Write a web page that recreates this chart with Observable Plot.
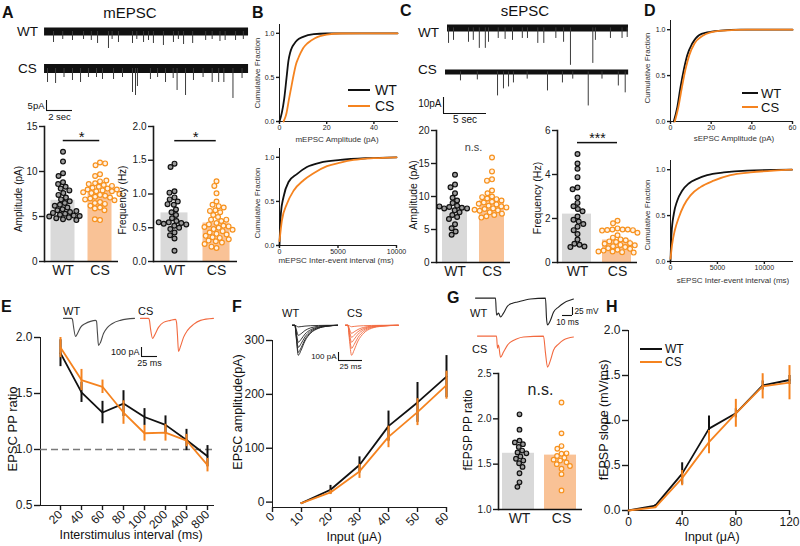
<!DOCTYPE html>
<html><head><meta charset="utf-8">
<script src="https://cdn.jsdelivr.net/npm/d3@7"></script>
<script src="https://cdn.jsdelivr.net/npm/@observablehq/plot@0.6"></script>
<style>
body{margin:0;background:#fff;}
#root{position:relative;width:800px;height:546px;overflow:hidden;background:#fff;font-family:"Liberation Sans",Arial,Helvetica,sans-serif;color:#111}
.lbl{position:absolute;white-space:nowrap;line-height:1;}
g[aria-label="frame"], g[aria-label="frame"] * {stroke-width:1.6px}
g[aria-label$="axis tick"], g[aria-label$="axis tick"] * {stroke-width:1.4px}
</style></head><body><div id="root"></div>
<script>
// ================= DATA =================
const groups = ["WT", "CS"];
// A: mEPSC amplitude (pA) and frequency (Hz), individual cells + means
const mAmpWT = [12.2, 11.1, 9.8, 9.5, 8.8, 8.6, 8.3, 8.1, 7.9, 7.6, 7.4, 7.1, 6.9, 6.7, 6.5, 6.3, 6.2, 6.0, 5.8, 5.7, 5.5, 5.4, 5.3, 5.2, 5.1, 5.0, 4.9, 4.8, 4.7, 4.6, 5.05, 5.6];
const mAmpCS = [11.0, 10.7, 10.9, 9.7, 9.5, 8.9, 8.7, 8.5, 8.3, 8.2, 8.1, 8.0, 7.9, 7.8, 7.8, 7.7, 7.6, 7.4, 7.3, 7.2, 7.1, 7.0, 6.9, 6.6, 6.5, 6.4, 6.2, 6.0, 5.9, 5.7, 4.6, 4.7, 8.4, 8.0, 7.5, 6.8, 8.6, 9.0];
const mAmpMeans = [6.8, 7.8];
const mFreqWT = [1.45, 1.40, 1.04, 1.02, 0.95, 0.92, 0.89, 0.84, 0.77, 0.73, 0.69, 0.64, 0.60, 0.58, 0.57, 0.56, 0.55, 0.53, 0.50, 0.48, 0.43, 0.39, 0.34, 0.16, 0.85, 0.58];
const mFreqCS = [1.19, 1.12, 1.01, 0.89, 0.84, 0.82, 0.80, 0.76, 0.73, 0.69, 0.66, 0.62, 0.60, 0.57, 0.55, 0.53, 0.52, 0.51, 0.50, 0.48, 0.47, 0.45, 0.43, 0.41, 0.40, 0.38, 0.36, 0.35, 0.33, 0.31, 0.30, 0.28, 0.26, 0.20, 0.22, 0.62, 0.75];
const mFreqMeans = [0.72, 0.57];
// C: sEPSC amplitude and frequency
const sAmpWT = [13.3, 11.8, 11.4, 10.5, 9.8, 9.4, 9.0, 8.6, 8.4, 8.3, 8.2, 8.2, 7.9, 7.6, 7.2, 6.9, 6.6, 5.8, 5.2, 4.7, 4.2, 8.5];
const sAmpCS = [15.9, 13.8, 12.6, 12.4, 10.9, 10.5, 10.0, 9.7, 9.6, 9.4, 9.2, 9.1, 8.9, 8.8, 8.6, 8.5, 8.35, 8.2, 8.1, 7.9, 7.85, 7.6, 7.4, 7.2, 7.0, 6.8, 9.9, 8.0];
const sAmpMeans = [8.2, 9.4];
const sFreqWT = [4.93, 4.5, 4.26, 3.88, 3.41, 3.33, 2.95, 2.71, 2.56, 2.43, 2.33, 2.09, 1.94, 1.86, 1.75, 1.63, 1.47, 1.29, 1.04, 0.85, 0.81, 0.73, 0.70];
const sFreqCS = [1.9, 1.78, 1.55, 1.5, 1.5, 1.5, 1.48, 1.47, 1.45, 1.35, 1.24, 1.13, 1.05, 1.01, 0.96, 0.93, 0.88, 0.85, 0.80, 0.78, 0.74, 0.70, 0.65, 0.62, 0.58, 0.54, 0.50, 0.47, 0.45, 0.50];
const sFreqMeans = [2.2, 1.02];
// G: fEPSP paired-pulse ratio
const ppWT = [2.05, 1.88, 1.76, 1.74, 1.72, 1.69, 1.65, 1.63, 1.62, 1.585, 1.56, 1.54, 1.51, 1.47, 1.40, 1.30, 1.25];
const ppCS = [2.18, 1.84, 1.70, 1.67, 1.615, 1.59, 1.57, 1.54, 1.52, 1.50, 1.45, 1.39, 1.21, 1.62, 1.55, 1.48];
const ppMeans = [1.62, 1.60];
// B / D cumulative distributions [x, fraction]
const cumMAmpWT = [[0,0],[1,0.1],[2,0.26],[3,0.5],[3.8,0.69],[4.5,0.78],[5.3,0.84],[6.2,0.88],[7.4,0.92],[10,0.96],[14.5,0.99],[20,0.998],[30,1],[50,1]];
const cumMAmpCS = [[1.7,0],[2.5,0.05],[3,0.1],[4,0.25],[5,0.39],[6,0.53],[7,0.65],[8,0.72],[9,0.78],[10,0.83],[12,0.89],[15,0.945],[20,0.985],[26,0.998],[35,1],[50,1]];
const cumMIeiWT = [[0,0],[50,0.2],[114,0.36],[343,0.55],[771,0.72],[1486,0.81],[2343,0.89],[3486,0.94],[5200,0.97],[7486,0.99],[10000,1]];
const cumMIeiCS = [[0,0.05],[200,0.28],[629,0.47],[1200,0.62],[2057,0.74],[2914,0.82],[4057,0.9],[5200,0.94],[6343,0.97],[8057,0.99],[10000,1]];
const cumSAmpWT = [[1.6,0],[3.3,0.15],[4.9,0.37],[6.6,0.57],[8.2,0.72],[10.7,0.85],[14,0.94],[18,0.97],[24.7,0.99],[34.5,1],[60,1]];
const cumSAmpCS = [[2.1,0],[3.8,0.15],[5.6,0.37],[7.4,0.57],[9.2,0.72],[11.8,0.85],[15.6,0.93],[19.7,0.97],[26.3,0.99],[37.8,1],[60,1]];
const cumSIeiWT = [[0,0],[106,0.3],[355,0.52],[709,0.66],[1241,0.77],[1950,0.85],[2837,0.9],[3900,0.94],[5674,0.97],[8156,0.99],[12940,1]];
const cumSIeiCS = [[0,0.03],[177,0.19],[461,0.34],[887,0.48],[1418,0.61],[2128,0.72],[3191,0.81],[4610,0.88],[6383,0.94],[8511,0.97],[10993,0.99],[12940,1]];
// E: EPSC paired-pulse ratio vs interstimulus interval
const isiLabels = ["20", "40", "60", "80", "100", "200", "400", "800"];
const ppEWT = [1.86, 1.51, 1.33, 1.41, 1.29, 1.22, 1.085, 0.94];
const ppEWTsem = [0.12, 0.09, 0.10, 0.115, 0.075, 0.08, 0.095, 0.095];
const ppECS = [1.91, 1.62, 1.56, 1.33, 1.145, 1.15, 1.08, 0.86];
const ppECSsem = [0.09, 0.095, 0.06, 0.105, 0.07, 0.075, 0.055, 0.06];
// F: EPSC amplitude vs input
const inputF = [10, 20, 30, 40, 50, 60];
const ampFWT = [-2, 23, 69, 141, 185, 233];
const ampFWTsem = [1, 8, 15, 28, 37, 39];
const ampFCS = [-2, 18, 57, 121, 167, 217];
const ampFCSsem = [1, 4, 13, 20, 25, 26];
// H: fEPSP slope vs input
const inputH = [0, 20, 40, 60, 80, 100, 120];
const slopeWT = [0, 0.055, 0.41, 0.91, 1.08, 1.39, 1.45];
const slopeWTsem = [0, 0.01, 0.12, 0.14, 0.05, 0.05, 0.05];
const slopeCS = [0, 0.035, 0.36, 0.76, 1.08, 1.38, 1.42];
const slopeCSsem = [0, 0.01, 0.085, 0.13, 0.155, 0.14, 0.19];
// Example traces: noisy recordings -> events [time s, depth pA]
const mTraceWTevents = [[0.69,5.5],[1.4,4],[2.15,4.5],[3.0,4],[3.6,4.5],[4.08,6],[4.92,8.5],[5.2,4],[5.69,5.5],[6.77,6],[7.1,4],[7.62,5.5],[8.0,4.5],[8.38,6],[9.15,7],[9.92,5.5],[10.3,4],[10.7,6.5],[11.4,6],[12.4,4.5],[12.9,4],[13.5,5],[13.9,4.5],[14.7,4.5],[15.3,4]];
const mTraceCSevents = [[0.23,7],[0.85,7.5],[1.5,4.5],[2.15,6],[2.77,7],[3.38,4.5],[4.0,4.5],[4.46,5.5],[5.31,5.5],[6.0,4.5],[6.77,12],[7.0,13.5],[7.15,9],[8.15,5.5],[8.7,4.5],[9.31,7],[9.9,5],[10.2,11],[10.85,13.5],[11.46,6],[12.2,4.5],[12.9,7],[13.4,7],[13.8,7],[14.5,15],[15.2,5]];
const sTraceWTevents = [[0.12,9.7],[0.7,7.8],[2.44,9],[3.0,7.8],[3.7,12.8],[4.4,12.8],[4.77,9],[5.9,6.6],[6.7,7.2],[7.56,7.8],[8.7,6.6],[9.3,6.6],[10.5,9.7],[11.2,9.7],[12.6,6.6],[13.5,9],[14.3,23.4],[16.9,22.2],[17.2,7.8],[18.95,6.6],[20.3,6.6],[20.9,6]];
const sTraceCSevents = [[1.74,5.6],[3.7,5],[6.05,15],[6.74,10.6],[7.33,9.4],[7.9,6.9],[9.5,4.5],[11.86,11.9],[13.6,6.9],[14.8,4.5],[16.6,21.3],[18.2,4.5],[20.1,8.8],[20.9,13.1]];
// Evoked waveforms [time ms, current pA or mV]
const eTraceWT = [[0,0],[12.5,0],[14,-11],[15.6,-89],[18.8,-200],[21.9,-167],[26.6,-100],[34.4,-56],[42.2,-33],[50,-22],[51.6,-33],[53.1,-167],[54.7,-300],[57.8,-267],[62.5,-167],[68.8,-100],[76.6,-56],[89,-22],[111,0]];
const eTraceCS = [[0,0],[12.5,0],[14,-22],[15.6,-111],[18.8,-222],[21.9,-189],[28.1,-100],[35.9,-44],[46.9,-22],[54.7,-11],[56.3,-44],[57.8,-189],[59.4,-367],[62.5,-311],[67.2,-211],[73.4,-133],[82.8,-67],[93.8,-22],[114,0]];
const fTraceTimeWT = [0, 2.5, 4, 6, 9, 13, 19, 27, 36, 47];
const fTracesWT = [
  [0, 0, -8, -20, -16, -10, -5, -2, 0, 0],
  [0, 0, -55, -125, -105, -65, -32, -12, -4, 0],
  [0, 0, -95, -212, -175, -110, -55, -22, -7, 0],
  [0, 0, -125, -275, -228, -145, -72, -28, -9, 0],
  [0, 0, -150, -338, -280, -178, -88, -35, -11, 0],
  [0, 0, -170, -375, -310, -196, -98, -38, -12, 0]
];
const fTraceTimeCS = [0, 2.5, 4, 6.3, 9, 13, 19, 27, 38, 55];
const fTracesCS = [
  [0, 0, -6, -18, -14, -9, -5, -2, 0, 0],
  [0, 0, -45, -100, -82, -52, -26, -10, -3, 0],
  [0, 0, -68, -150, -125, -80, -40, -16, -5, 0],
  [0, 0, -95, -212, -175, -112, -56, -22, -7, 0],
  [0, 0, -130, -288, -240, -152, -76, -30, -9, 0],
  [0, 0, -170, -375, -310, -196, -98, -38, -12, 0]
];
const gTraceWT = [[0,0],[20,0],[21,-53],[23,-47],[25,-59],[28,-47],[32,-25],[37,-16],[42,-12],[55,-3],[70,0],[71,-62],[72,-84],[75,-69],[78,-44],[83,-28],[88,-16],[98,-3]];
const gTraceCS = [[0,0],[19,0],[20,-38],[21,-28],[23,-66],[26,-50],[30,-28],[33,-19],[39,-9],[46,-3],[66,0],[68,-53],[70,-97],[73,-75],[76,-44],[81,-25],[86,-12],[96,-3]];

// ================= STYLE =================
const FONT = '"Liberation Sans", Arial, Helvetica, sans-serif';
const K = "#111111", OR = "#f5831f", OR_TRACE = "#f26a40";
const BAR_WT = "#d9d9d9", BAR_CS = "#f9c296", DOT_CS = "#f7921e";
const root = document.getElementById("root");
const baseStyle = (size) => ({fontFamily: FONT, fontSize: size + "px", color: "#1a1a1a", background: "transparent", overflow: "visible"});

function place(svg, left, top) {
  svg.style.position = "absolute";
  svg.style.left = left + "px";
  svg.style.top = top + "px";
  root.appendChild(svg);
}
function label(text, x, y, o = {}) {
  const d = document.createElement("div");
  d.className = "lbl";
  d.textContent = text;
  d.style.fontSize = (o.size || 13) + "px";
  if (o.bold) d.style.fontWeight = "bold";
  if (o.color) d.style.color = o.color;
  d.style.left = x + "px"; d.style.top = y + "px";
  const a = o.anchor || "middle";
  const tx = a === "middle" ? "-50%" : a === "end" ? "-100%" : "0%";
  d.style.transform = `translate(${tx}, -50%)` + (o.rotate ? " rotate(-90deg)" : "");
  root.appendChild(d);
}
function legendRow(x1, x2, y, color, text, tx, size) {
  const l = document.createElement("div");
  l.style.cssText = `position:absolute;left:${x1}px;top:${y - 1}px;width:${x2 - x1}px;height:2px;background:${color}`;
  root.appendChild(l);
  label(text, tx, y, {size, anchor: "start"});
}

// ---------- bar + dots panel ----------
function barPanel(o) {
  const fw = (o.width - o.ml - o.mr) / 2;
  const wt = o.wt.map(v => ({g: "WT", v}));
  const cs = o.cs.map(v => ({g: "CS", v}));
  const means = groups.map((g, i) => ({g, v: o.means[i]}));
  const y0 = o.yDomain[0];
  const marks = [
    Plot.barY(means.filter(d => d.g === "WT"), {fx: "g", y1: y0, y2: "v", fill: BAR_WT, insetLeft: o.inset[0], insetRight: o.inset[1]}),
    Plot.barY(means.filter(d => d.g === "CS"), {fx: "g", y1: y0, y2: "v", fill: BAR_CS, insetLeft: o.inset[0], insetRight: o.inset[1]}),
    Plot.ruleY([y0], {stroke: K, strokeWidth: 1.6}),
    Plot.dot(wt, Plot.dodgeX({anchor: "middle", padding: 0.4}, {fx: "g", y: "v", r: o.r, stroke: K, strokeWidth: 1.2, fill: "#9c9c9c"})),
    Plot.dot(cs, Plot.dodgeX({anchor: "middle", padding: 0.4}, {fx: "g", y: "v", r: o.r, stroke: DOT_CS, strokeWidth: 1.2, fill: "#fff1e4"})),
    Plot.axisFx({anchor: "bottom", tickSize: 0, tickPadding: 4, fontSize: 14, label: null})
  ];
  if (o.sig) {
    if (o.sig.line) {
      marks.push(Plot.ruleY([{g: "WT", v: o.sig.y}], {fx: "g", y: "v", insetLeft: fw / 2, stroke: K, strokeWidth: 1.5}));
      marks.push(Plot.ruleY([{g: "CS", v: o.sig.y}], {fx: "g", y: "v", insetRight: fw / 2, stroke: K, strokeWidth: 1.5}));
    }
    marks.push(Plot.text([{g: "WT", v: o.sig.y, t: o.sig.text}], {fx: "g", y: "v", text: "t", dx: fw / 2, dy: o.sig.dy, fontSize: o.sig.size, fill: o.sig.color || K}));
  }
  const svg = Plot.plot({
    width: o.width, height: o.height,
    marginLeft: o.ml, marginRight: o.mr, marginTop: o.mt, marginBottom: o.mb,
    fx: {domain: groups, padding: 0, label: null},
    y: {domain: o.yDomain, ticks: o.yTicks, tickFormat: o.tickFormat, tickSize: 5, tickPadding: 2, line: true, label: null},
    style: baseStyle(10),
    marks
  });
  place(svg, o.left, o.top);
}

// ---------- cumulative panel ----------
function cumPanel(o) {
  const svg = Plot.plot({
    width: o.width, height: o.height,
    marginLeft: 29, marginRight: o.mr, marginTop: 10, marginBottom: 12,
    x: {domain: o.xDomain, ticks: o.xTicks, tickFormat: "d", tickSize: 3, tickPadding: 1, line: true, label: null},
    y: {domain: [0, 1.1], ticks: [0, 0.5, 1], tickFormat: ".1f", tickSize: 3, tickPadding: 2, line: true, label: null},
    style: baseStyle(7),
    marks: [
      Plot.line(o.wt, {x: d => d[0], y: d => d[1], stroke: K, strokeWidth: 1.8, curve: "monotone-x"}),
      Plot.line(o.cs, {x: d => d[0], y: d => d[1], stroke: OR, strokeWidth: 1.8, curve: "monotone-x"})
    ]
  });
  place(svg, o.left, o.top);
}

// ---------- mean +/- sem line panel ----------
function linePanel(o) {
  const rowsFor = (m, s) => o.xs.map((x, i) => ({x, m: m[i], lo: m[i] - s[i], hi: m[i] + s[i]}));
  const wt = rowsFor(o.wt, o.wtSem), cs = rowsFor(o.cs, o.csSem);
  const marks = [];
  if (o.refLine != null) marks.push(Plot.ruleY([o.refLine], {stroke: "#7a7a7a", strokeWidth: 1.6, strokeDasharray: "7,4"}));
  marks.push(
    Plot.line(wt, {x: "x", y: "m", stroke: K, strokeWidth: 1.8}),
    Plot.ruleX(wt, {x: "x", y1: "lo", y2: "hi", stroke: K, strokeWidth: 2}),
    Plot.line(cs, {x: "x", y: "m", stroke: OR, strokeWidth: 1.8}),
    Plot.ruleX(cs, {x: "x", y1: "lo", y2: "hi", stroke: OR, strokeWidth: 2})
  );
  const svg = Plot.plot({
    width: o.width, height: o.height,
    marginLeft: o.ml, marginRight: o.mr, marginTop: o.mt, marginBottom: o.mb,
    x: {...o.x, tickSize: 5, tickPadding: 2, line: true, label: null},
    y: {domain: o.yDomain, ticks: o.yTicks, tickFormat: o.yFormat, tickSize: 6, tickPadding: 2, line: true, label: null},
    style: baseStyle(12),
    marks
  });
  place(svg, o.left, o.top);
}

// ---------- trace panels ----------
function tracePlot(o) {
  const svg = Plot.plot({
    width: (o.xDomain[1] - o.xDomain[0]) * o.pxX,
    height: (o.yDomain[1] - o.yDomain[0]) * o.pxY,
    margin: 0,
    x: {domain: o.xDomain, axis: null},
    y: {domain: o.yDomain, axis: null},
    style: baseStyle(10),
    marks: o.marks
  });
  place(svg, o.left, o.top);
}
function noisyMarks(events, band) {
  return [
    Plot.ruleY([0], {stroke: K, strokeWidth: band}),
    Plot.ruleX(events, {x: d => d[0], y1: 0, y2: d => -d[1], stroke: "#3a3a3a", strokeWidth: 1})
  ];
}
function waveMarks(points, color, w) {
  return [Plot.line(points, {x: d => d[0], y: d => d[1], stroke: color, strokeWidth: w, curve: "monotone-x"})];
}
function familyMarks(times, traces, color) {
  const rows = traces.flatMap((arr, k) => arr.map((v, i) => ({t: times[i], v, k})));
  return [Plot.line(rows, {x: "t", y: "v", z: "k", stroke: color, strokeWidth: 0.9, curve: "monotone-x"})];
}
function scaleBar(o) {
  const ml = 40, mr = 40, mt = 2, mb = 16;
  const vx = o.side === "right" ? o.tLen : 0;
  const svg = Plot.plot({
    width: o.tLen * o.pxT + ml + mr, height: o.vLen * o.pxV + mt + mb,
    marginLeft: ml, marginRight: mr, marginTop: mt, marginBottom: mb,
    x: {domain: [0, o.tLen], axis: null}, y: {domain: [0, o.vLen], axis: null},
    style: baseStyle(o.size),
    marks: [
      Plot.ruleX([vx], {y1: 0, y2: o.vLen, stroke: K, strokeWidth: 1.1}),
      Plot.ruleY([0], {x1: 0, x2: o.tLen, stroke: K, strokeWidth: 1.1}),
      Plot.text([o.vLabel], {x: vx, y: o.vLen * (o.vAt ?? 0.5), text: d => d, textAnchor: o.side === "right" ? "start" : "end", dx: o.side === "right" ? 2 : -2, fill: K}),
      Plot.text([o.tLabel], {x: o.tLen / 2, y: 0, text: d => d, dy: o.tDy, fill: K})
    ]
  });
  place(svg, o.left - ml, o.top - mt);
}

// ================= PANEL A =================
label("A", 2, 13, {size: 16, bold: true, anchor: "start"});
label("mEPSC", 130, 12, {size: 15});
label("WT", 17, 32, {size: 13.5, anchor: "start"});
label("CS", 18, 69, {size: 13.5, anchor: "start"});
tracePlot({left: 44, top: 23, xDomain: [0, 15.7], yDomain: [-10, 4], pxX: 13, pxY: 2, marks: noisyMarks(mTraceWTevents, 8)});
tracePlot({left: 44, top: 60, xDomain: [0, 15.7], yDomain: [-17, 4], pxX: 13, pxY: 2, marks: noisyMarks(mTraceCSevents, 9)});
scaleBar({left: 46, top: 100, tLen: 2, vLen: 5, pxT: 13, pxV: 2, tLabel: "2 sec", vLabel: "5pA", size: 9.5, tDy: 6});
barPanel({left: 0, top: 100, width: 125, height: 185, ml: 43, mr: 7, mt: 26, mb: 24,
  yDomain: [0, 15], yTicks: [0, 5, 10, 15], tickFormat: "d", wt: mAmpWT, cs: mAmpCS, means: mAmpMeans,
  inset: [6.5, 6.5], r: 2.4, sig: {line: true, y: 13.44, text: "*", dy: -3, size: 15}});
label("Amplitude (pA)", 19, 199, {size: 10, rotate: true});
barPanel({left: 109, top: 100, width: 133, height: 185, ml: 43, mr: 5, mt: 26, mb: 24,
  yDomain: [0, 2], yTicks: [0, 0.5, 1, 1.5, 2], tickFormat: ".1f", wt: mFreqWT, cs: mFreqCS, means: mFreqMeans,
  inset: [7.5, 7.5], r: 2.4, sig: {line: true, y: 1.79, text: "*", dy: -3, size: 15}});
label("Frequency (Hz)", 123, 200, {size: 10, rotate: true});

// ================= PANEL B =================
label("B", 252, 12.5, {size: 16, bold: true, anchor: "start"});
cumPanel({left: 250, top: 14, width: 150, height: 119, mr: 3, xDomain: [0, 50], xTicks: [0, 20, 40], wt: cumMAmpWT, cs: cumMAmpCS});
cumPanel({left: 250, top: 138, width: 150, height: 119, mr: 4, xDomain: [0, 10000], xTicks: [0, 5000, 10000], wt: cumMIeiWT, cs: cumMIeiCS});
label("Cumulative Fraction", 258, 73, {size: 8, rotate: true, color: "#333"});
label("mEPSC Amplitude (pA)", 337, 140, {size: 8, color: "#333"});
label("Cumulative Fraction", 258, 203, {size: 8, rotate: true, color: "#333"});
label("mEPSC Inter-event interval (ms)", 336, 261, {size: 8, color: "#333"});
legendRow(348, 370, 90, K, "WT", 375, 14);
legendRow(348, 370, 106, OR, "CS", 375, 14);

// ================= PANEL C =================
label("C", 400, 11, {size: 16, bold: true, anchor: "start"});
label("sEPSC", 525, 10, {size: 15});
label("WT", 418, 32.5, {size: 13.5, anchor: "start"});
label("CS", 418, 70, {size: 13.5, anchor: "start"});
tracePlot({left: 447, top: 21.1, xDomain: [0, 21.05], yDomain: [-25, 4], pxX: 8.6, pxY: 1.6, marks: noisyMarks(sTraceWTevents, 7)});
tracePlot({left: 445, top: 64.6, xDomain: [0, 21.3], yDomain: [-23, 4], pxX: 8.6, pxY: 1.6, marks: noisyMarks(sTraceCSevents, 5)});
scaleBar({left: 443, top: 97, tLen: 5, vLen: 10, pxT: 8.6, pxV: 1.6, tLabel: "5 sec", vLabel: "10pA", size: 10, tDy: 6, vAt: 0.62});
barPanel({left: 393, top: 100, width: 122, height: 186, ml: 43, mr: 5, mt: 30, mb: 24,
  yDomain: [0, 20], yTicks: [0, 5, 10, 15, 20], tickFormat: "d", wt: sAmpWT, cs: sAmpCS, means: sAmpMeans,
  inset: [6, 6], r: 2.4, sig: {line: false, y: 17.4, text: "n.s.", dy: 0, size: 11, color: "#444"}});
label("Amplitude (pA)", 413, 195, {size: 10.5, rotate: true});
barPanel({left: 514, top: 100, width: 128, height: 186, ml: 43, mr: 5, mt: 30, mb: 24,
  yDomain: [0, 6], yTicks: [0, 2, 4, 6], tickFormat: "d", wt: sFreqWT, cs: sFreqCS, means: sFreqMeans,
  inset: [5, 6], r: 2.4, sig: {line: true, y: 5.45, text: "***", dy: -4, size: 14}});
label("Frequency (Hz)", 537, 198, {size: 10.5, rotate: true});

// ================= PANEL D =================
label("D", 644, 11, {size: 16, bold: true, anchor: "start"});
cumPanel({left: 641, top: 10, width: 155, height: 123, mr: 4, xDomain: [0, 60], xTicks: [0, 20, 40, 60], wt: cumSAmpWT, cs: cumSAmpCS});
cumPanel({left: 641, top: 150, width: 155, height: 123, mr: 4, xDomain: [0, 13000], xTicks: [0, 5000, 10000], wt: cumSIeiWT, cs: cumSIeiCS});
label("Cumulative Fraction", 648, 68, {size: 8, rotate: true, color: "#333"});
label("sEPSC Amplitude (pA)", 734, 139, {size: 8, color: "#333"});
label("Cumulative Fraction", 648, 215, {size: 8, rotate: true, color: "#333"});
label("sEPSC Inter-event interval (ms)", 733, 281, {size: 8, color: "#333"});
legendRow(742, 758, 93, K, "WT", 761, 13);
legendRow(742, 758, 107, OR, "CS", 761, 13);

// ================= PANEL E =================
label("E", 1, 307, {size: 16, bold: true, anchor: "start"});
label("WT", 63, 311, {size: 11, anchor: "start"});
label("CS", 138, 311, {size: 11, anchor: "start"});
tracePlot({left: 63, top: 317.1, xDomain: [0, 111], yDomain: [-310, 10], pxX: 0.64, pxY: 0.09, marks: waveMarks(eTraceWT, "#4a4a4a", 1.1)});
tracePlot({left: 140, top: 317.1, xDomain: [0, 114], yDomain: [-380, 10], pxX: 0.64, pxY: 0.09, marks: waveMarks(eTraceCS, OR_TRACE, 1.1)});
scaleBar({left: 141, top: 347, tLen: 25, vLen: 100, pxT: 0.64, pxV: 0.09, tLabel: "25 ms", vLabel: "100 pA", size: 9, tDy: 7});
linePanel({left: 0, top: 320, width: 218, height: 220, ml: 40, mr: 5, mt: 17, mb: 35,
  x: {type: "point", domain: isiLabels, padding: 0.51, align: 0.77, tickRotate: -45},
  xs: isiLabels, wt: ppEWT, wtSem: ppEWTsem, cs: ppECS, csSem: ppECSsem,
  yDomain: [0.5, 2.0], yTicks: [0.5, 1, 1.5, 2], yFormat: ".1f", refLine: 1.0});
label("EPSC PP ratio", 12, 429, {size: 13, rotate: true});
label("Interstimulus interval (ms)", 131, 535, {size: 12.5});

// ================= PANEL F =================
label("F", 232, 307, {size: 16, bold: true, anchor: "start"});
label("WT", 282, 312.5, {size: 11, anchor: "start"});
label("CS", 347, 312.5, {size: 11, anchor: "start"});
tracePlot({left: 292, top: 324.2, xDomain: [0, 47], yDomain: [-390, 10], pxX: 0.96, pxY: 0.08, marks: familyMarks(fTraceTimeWT, fTracesWT, "#222")});
tracePlot({left: 345, top: 324.2, xDomain: [0, 55], yDomain: [-390, 10], pxX: 0.96, pxY: 0.08, marks: familyMarks(fTraceTimeCS, fTracesCS, OR_TRACE)});
scaleBar({left: 338, top: 352, tLen: 25, vLen: 100, pxT: 0.96, pxV: 0.08, tLabel: "25 ms", vLabel: "100 pA", size: 8, tDy: 5.5});
linePanel({left: 232, top: 320, width: 219, height: 222, ml: 40, mr: 5, mt: 20, mb: 35,
  x: {domain: [0, 60], ticks: [0, 10, 20, 30, 40, 50, 60], tickRotate: -45},
  xs: inputF, wt: ampFWT, wtSem: ampFWTsem, cs: ampFCS, csSem: ampFCSsem,
  yDomain: [-10, 300], yTicks: [0, 100, 200, 300], yFormat: "d"});
label("EPSC amplitude(pA)", 238, 412, {size: 12.5, rotate: true});
label("Input (\u03bcA)", 354, 537, {size: 12.5});

// ================= PANEL G =================
label("G", 447, 297.5, {size: 16, bold: true, anchor: "start"});
label("WT", 470, 312.5, {size: 11, anchor: "start"});
label("CS", 472, 349, {size: 11, anchor: "start"});
tracePlot({left: 475, top: 296.4, xDomain: [0, 98], yDomain: [-90, 5], pxX: 1, pxY: 0.32, marks: waveMarks(gTraceWT, "#222", 1.1)});
tracePlot({left: 477, top: 334.4, xDomain: [0, 96], yDomain: [-100, 5], pxX: 1, pxY: 0.32, marks: waveMarks(gTraceCS, OR_TRACE, 1.1)});
scaleBar({left: 562, top: 307, tLen: 10, vLen: 25, pxT: 1, pxV: 0.32, tLabel: "10 ms", vLabel: "25 mV", size: 8.3, tDy: 7, side: "right"});
barPanel({left: 455, top: 353, width: 132, height: 180, ml: 43, mr: 5, mt: 20, mb: 24,
  yDomain: [1, 2.5], yTicks: [1, 1.5, 2, 2.5], tickFormat: ".1f", wt: ppWT, cs: ppCS, means: ppMeans,
  inset: [4, 6], r: 2.3, sig: {line: false, y: 2.32, text: "n.s.", dy: 0, size: 16, color: "#222"}});
label("fEPSP PP ratio", 468, 430, {size: 12, rotate: true});

// ================= PANEL H =================
label("H", 606, 307, {size: 16, bold: true, anchor: "start"});
linePanel({left: 588, top: 310, width: 209, height: 235, ml: 40, mr: 8, mt: 20, mb: 35,
  x: {domain: [0, 120], ticks: [0, 40, 80, 120]},
  xs: inputH, wt: slopeWT, wtSem: slopeWTsem, cs: slopeCS, csSem: slopeCSsem,
  yDomain: [0, 2], yTicks: [0, 0.5, 1, 1.5, 2], yFormat: ".1f"});
label("fEPSP slope (mV/ms)", 604, 420, {size: 12.5, rotate: true});
label("Input (\u03bcA)", 712, 537, {size: 12.5});
legendRow(640, 662, 349, K, "WT", 665, 12);
legendRow(640, 662, 362, OR, "CS", 665, 12);
</script></body></html>
